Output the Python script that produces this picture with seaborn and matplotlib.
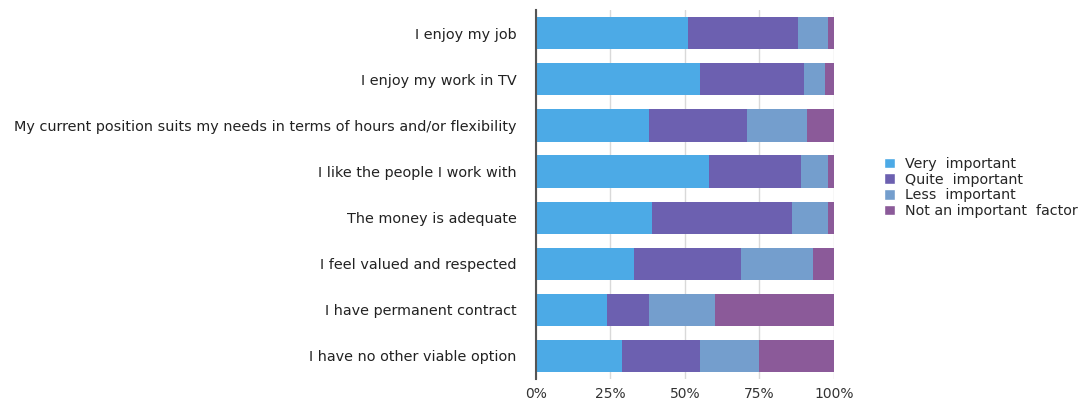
import numpy as np
import pandas as pd
import matplotlib.pyplot as plt
import seaborn as sns
from matplotlib.patches import Patch

# Survey data (percent of respondents)
reasons = ['I enjoy my job',
           'I enjoy my work in TV',
           'My current position suits my needs in terms of hours and/or flexibility',
           'I like the people I work with',
           'The money is adequate',
           'I feel valued and respected',
           'I have permanent contract',
           'I have no other viable option']
very = [51, 55, 38, 58, 39, 33, 24, 29]
quite = [37, 35, 33, 31, 47, 36, 14, 26]
less = [10, 7, 20, 9, 12, 24, 22, 20]
not_imp = [2, 3, 9, 2, 2, 7, 40, 25]

levels = ['Very  important', 'Quite  important', 'Less  important', 'Not an important  factor']
colors = ['#4caae6', '#6c60b0', '#749ecd', '#8b5a99']

df = pd.DataFrame({'reason': reasons, levels[0]: very, levels[1]: quite,
                   levels[2]: less, levels[3]: not_imp})

sns.set_style('white')
plt.rcParams['font.family'] = ['DejaVu Sans']

fig = plt.figure(figsize=(10.87, 4), dpi=100)
ax = fig.add_axes([0.493, 0.0525, 0.274, 0.922])

# stacked bars: draw cumulative totals from the largest down
cum = df[levels].cumsum(axis=1)
for i in range(len(levels) - 1, -1, -1):
    sns.barplot(x=cum[levels[i]], y=df['reason'], orient='h', color=colors[i],
                width=0.7, saturation=1, linewidth=0, ax=ax, zorder=2)

ax.set_xlim(0, 100)
ax.set_ylim(7.5, -0.5)
ax.set_xticks([0, 25, 50, 75, 100])
ax.set_xticklabels(['0%', '25%', '50%', '75%', '100%'], fontsize=10, color='#333333')
ax.tick_params(axis='y', labelsize=10.4, colors='#222222', length=0, pad=14)
ax.tick_params(axis='x', length=0, pad=6)
ax.set_xlabel('')
ax.set_ylabel('')
ax.grid(axis='x', color='#d9d9d9', linewidth=1, zorder=0)
ax.set_axisbelow(True)
for s in ['top', 'right', 'bottom']:
    ax.spines[s].set_visible(False)
ax.spines['left'].set_color('#555555')
ax.spines['left'].set_linewidth(1.5)

handles = [Patch(facecolor=c, label=l) for c, l in zip(colors, levels)]
fig.legend(handles=handles, loc='upper left', bbox_to_anchor=(0.808, 0.622),
           frameon=False, fontsize=10.3, handlelength=0.75, handleheight=0.75,
           handletextpad=0.7, labelspacing=0.12, borderaxespad=0)

fig.savefig('out.png', dpi=100)
